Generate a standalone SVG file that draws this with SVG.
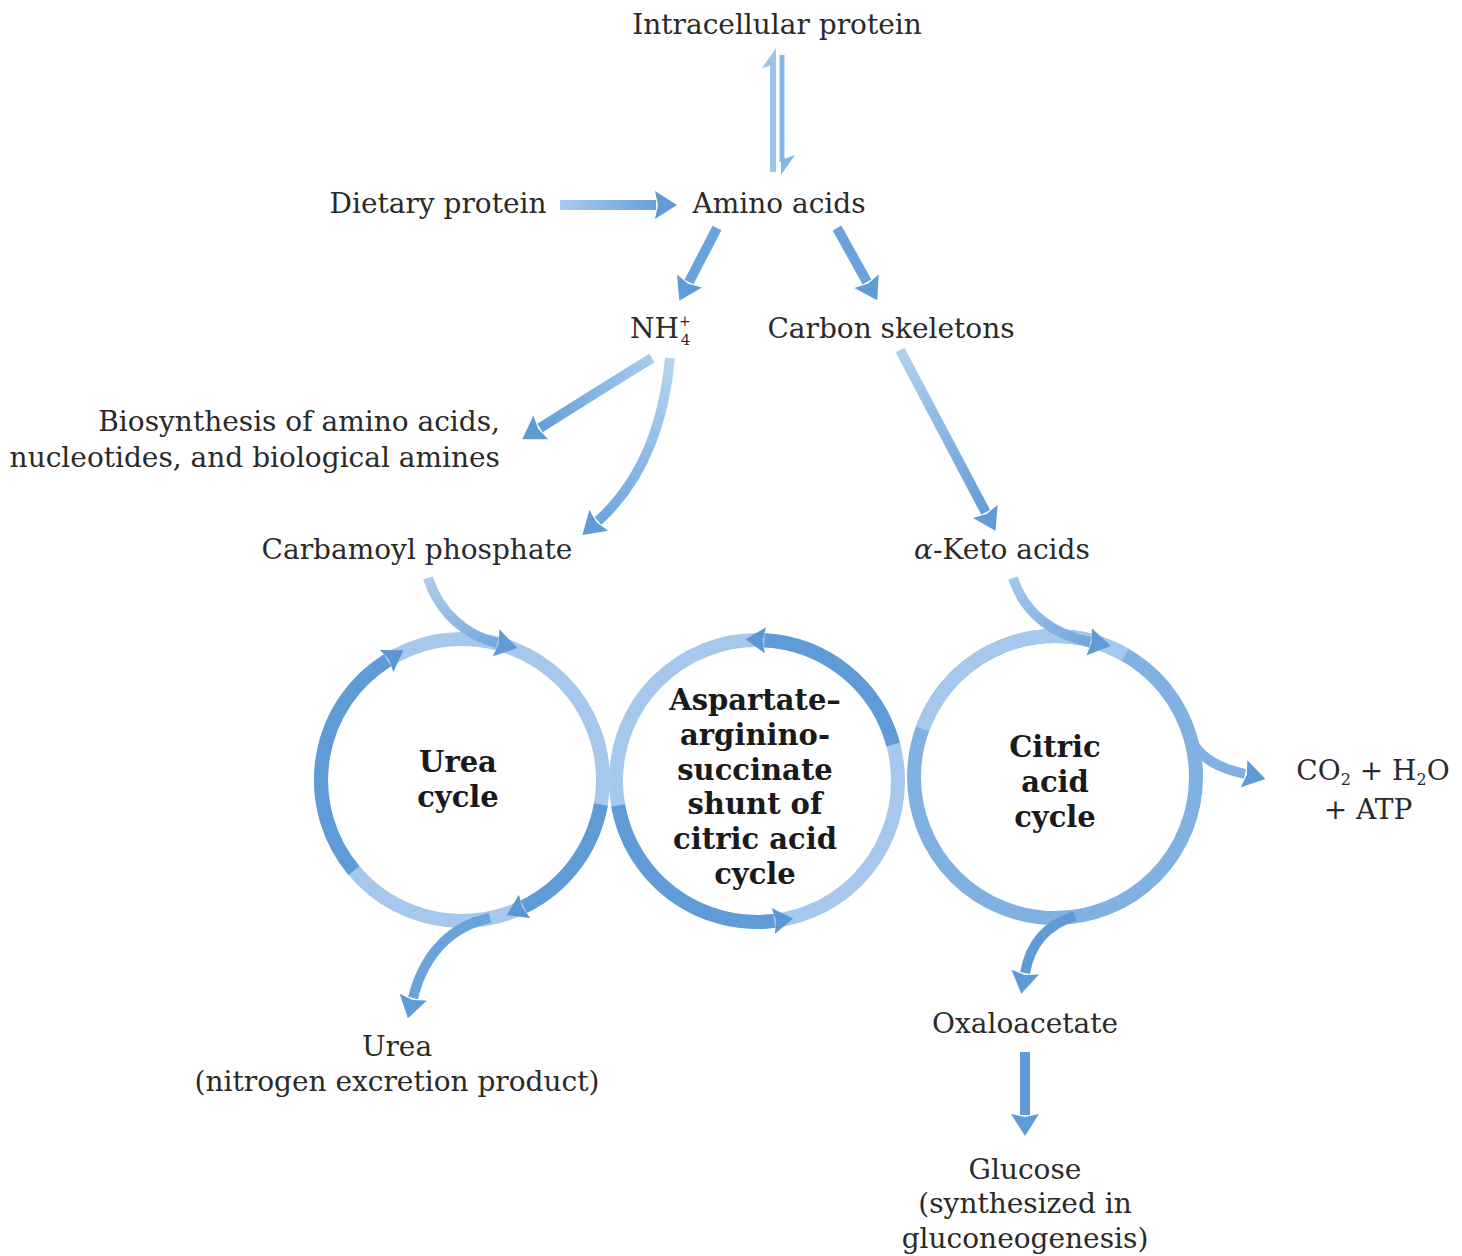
<svg xmlns="http://www.w3.org/2000/svg" width="1462" height="1256" viewBox="0 0 1462 1256">
<style>
.t{font-family:"DejaVu Serif","Liberation Serif",serif;font-size:28px;fill:#2a2a2a}
.b{font-family:"DejaVu Serif","Liberation Serif",serif;font-size:29px;font-weight:bold;fill:#1a1a1a;text-anchor:middle}
.m{text-anchor:middle}
.ln{fill:none;stroke-width:10}
.ring{fill:none;stroke-width:14}
</style>
<defs>
<marker id="h" viewBox="0 0 22 28" refX="1" refY="14" markerWidth="22" markerHeight="28" markerUnits="userSpaceOnUse" orient="auto"><path d="M0,0 L22,14 L0,28 L3,14 z" fill="#5e9bd7"/></marker>
<marker id="hr" viewBox="0 0 20 26" refX="1" refY="13" markerWidth="20" markerHeight="26" markerUnits="userSpaceOnUse" orient="auto"><path d="M0,0 L20,13 L0,26 L3,13 z" fill="#5a97d5"/></marker>
<linearGradient id="gD" gradientUnits="userSpaceOnUse" x1="560" y1="0" x2="670" y2="0"><stop offset="0" stop-color="#a9cbee"/><stop offset="1" stop-color="#5e9bd7"/></linearGradient>
<linearGradient id="gNB" gradientUnits="userSpaceOnUse" x1="652" y1="358" x2="530" y2="432"><stop offset="0" stop-color="#a9cbee"/><stop offset="1" stop-color="#5e9bd7"/></linearGradient>
<linearGradient id="gNC" gradientUnits="userSpaceOnUse" x1="670" y1="358" x2="590" y2="530"><stop offset="0" stop-color="#b8d4f0"/><stop offset="1" stop-color="#6aa3db"/></linearGradient>
<linearGradient id="gCK" gradientUnits="userSpaceOnUse" x1="900" y1="350" x2="990" y2="520"><stop offset="0" stop-color="#b3d1f0"/><stop offset="1" stop-color="#5e9bd7"/></linearGradient>
<linearGradient id="gCP" gradientUnits="userSpaceOnUse" x1="428" y1="578" x2="510" y2="645"><stop offset="0" stop-color="#aecdee"/><stop offset="1" stop-color="#6aa3db"/></linearGradient>
<linearGradient id="gAK" gradientUnits="userSpaceOnUse" x1="1013" y1="578" x2="1100" y2="645"><stop offset="0" stop-color="#a4c7ec"/><stop offset="1" stop-color="#6aa3db"/></linearGradient>
</defs>
<rect width="1462" height="1256" fill="#ffffff"/>

<g id="cycles">
<g id="urea-cycle">
<circle cx="462" cy="780" r="141" class="ring" stroke="#a6c8ec"/>
<path d="M354,870.6 A141,141 0 0 1 387.3,660.4" class="ring" stroke="#5e9bd7" marker-end="url(#hr)"/>
<path d="M600.9,804.5 A141,141 0 0 1 523.8,906.7" class="ring" stroke="#5e9bd7" marker-end="url(#hr)"/>
<text class="b" x="458" y="772">Urea</text>
<text class="b" x="458" y="807">cycle</text>
</g>
<g id="shunt-cycle">
<circle cx="757" cy="781" r="141" class="ring" stroke="#a6c8ec"/>
<path d="M893.2,744.5 A141,141 0 0 0 764.4,640.2" class="ring" stroke="#5e9bd7" marker-end="url(#hr)"/>
<path d="M618.1,805.5 A141,141 0 0 0 774.2,920.9" class="ring" stroke="#5e9bd7" marker-end="url(#hr)"/>
<text class="b" x="755" y="710">Aspartate–</text>
<text class="b" x="755" y="745">arginino-</text>
<text class="b" x="755" y="780">succinate</text>
<text class="b" x="755" y="814">shunt of</text>
<text class="b" x="755" y="849">citric acid</text>
<text class="b" x="755" y="884">cycle</text>
</g>
<g id="citric-cycle">
<circle cx="1055" cy="777" r="141" class="ring" stroke="#80b1e2"/>
<path d="M922.5,728.8 A141,141 0 0 1 1125.5,654.9" class="ring" stroke="#a6c8ec"/>
<text class="b" x="1055" y="757">Citric</text>
<text class="b" x="1055" y="792">acid</text>
<text class="b" x="1055" y="827">cycle</text>
</g>
</g>

<g id="connectors">
<line x1="773" y1="172" x2="773" y2="62" stroke="#9cc3ea" stroke-width="6"/>
<polygon points="776,48 762,68 776,64" fill="#9cc3ea"/>
<line x1="782" y1="55" x2="782" y2="162" stroke="#86b7e6" stroke-width="5"/>
<polygon points="781,175 795,155 781,160" fill="#86b7e6"/>
<path d="M560,205 L656,205" class="ln" stroke="url(#gD)" marker-end="url(#h)"/>
<path d="M717,228 L689,282" class="ln" stroke="#6aa3db" marker-end="url(#h)"/>
<path d="M837,228 L867,282" class="ln" stroke="#6aa3db" marker-end="url(#h)"/>
<path d="M652,358 Q600,390 540,428" class="ln" stroke="url(#gNB)" marker-end="url(#h)"/>
<path d="M670,358 Q660,465 598,521" class="ln" stroke="url(#gNC)" marker-end="url(#h)"/>
<path d="M900,350 L985.7,512.3" class="ln" stroke="url(#gCK)" marker-end="url(#h)"/>
<path d="M428,578 C440,615 468,636 497,643" class="ln" stroke="url(#gCP)" marker-end="url(#h)"/>
<path d="M1013,578 C1025,615 1055,635 1090,642" class="ln" stroke="url(#gAK)" marker-end="url(#h)"/>
<path d="M490,918 C455,925 425,950 413,998" class="ln" stroke="#6aa3db" marker-end="url(#h)"/>
<path d="M1075,916 C1045,925 1030,945 1025,973" class="ln" stroke="#5e9bd7" marker-end="url(#h)"/>
<path d="M1188,735 C1200,760 1220,768 1245,774" class="ln" stroke="#80b1e2" marker-end="url(#h)"/>
<path d="M1025,1052 L1025,1115" class="ln" stroke="#5e9bd7" marker-end="url(#h)"/>
</g>

<g id="intracellular-protein"><text class="t m" x="777" y="34">Intracellular protein</text></g>
<g id="dietary-protein"><text class="t m" x="438" y="213">Dietary protein</text></g>
<g id="amino-acids"><text class="t m" x="779" y="213">Amino acids</text></g>
<g id="nh4"><text class="t" x="630" y="338">NH<tspan font-size="14" dy="-12">+</tspan><tspan font-size="15" dx="-10" dy="19">4</tspan></text></g>
<g id="carbon-skeletons"><text class="t m" x="891" y="338">Carbon skeletons</text></g>
<g id="biosynthesis"><text class="t" x="500" y="431" text-anchor="end">Biosynthesis of amino acids,</text><text class="t" x="500" y="467" text-anchor="end">nucleotides, and biological amines</text></g>
<g id="carbamoyl-phosphate"><text class="t m" x="417" y="559">Carbamoyl phosphate</text></g>
<g id="keto-acids"><text class="t m" x="1002" y="559"><tspan font-style="italic">α</tspan>-Keto acids</text></g>
<g id="co2"><text class="t m" x="1373" y="780">CO<tspan font-size="16" dy="5">2</tspan><tspan dy="-5"> + H</tspan><tspan font-size="16" dy="5">2</tspan><tspan dy="-5">O</tspan></text><text class="t m" x="1368" y="819">+ ATP</text></g>
<g id="urea"><text class="t m" x="397" y="1056">Urea</text><text class="t m" x="397" y="1091">(nitrogen excretion product)</text></g>
<g id="oxaloacetate"><text class="t m" x="1025" y="1033">Oxaloacetate</text></g>
<g id="glucose"><text class="t m" x="1025" y="1179">Glucose</text><text class="t m" x="1025" y="1213">(synthesized in</text><text class="t m" x="1025" y="1248">gluconeogenesis)</text></g>
</svg>
